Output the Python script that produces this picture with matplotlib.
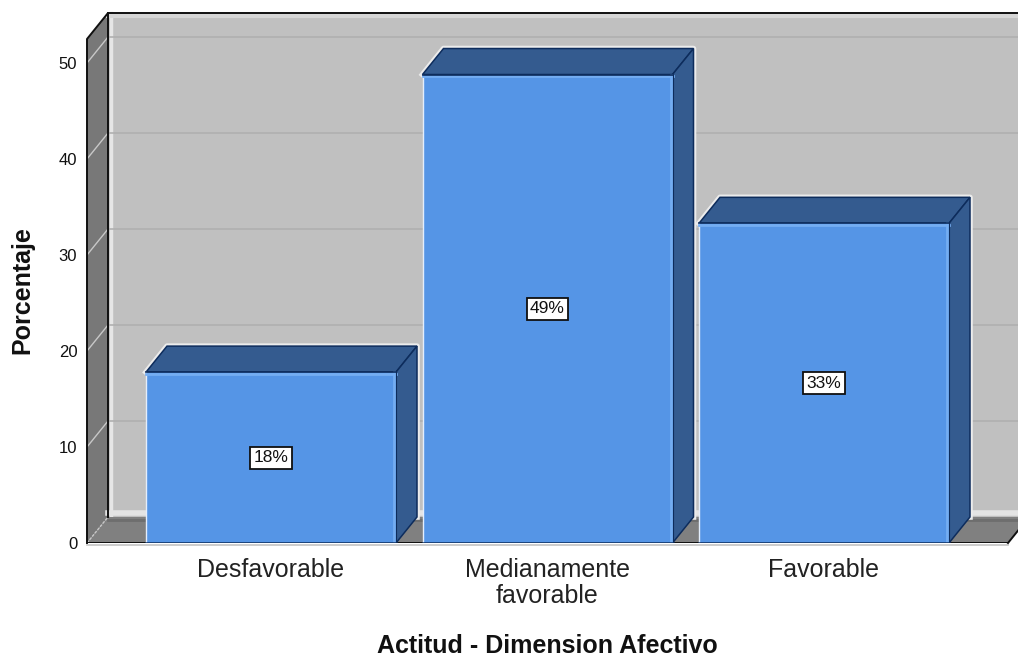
import matplotlib
matplotlib.use('Agg')
import matplotlib.pyplot as plt

plt.rcParams['font.family'] = ['Liberation Sans', 'DejaVu Sans']

categories = ['Desfavorable', 'Medianamente\nfavorable', 'Favorable']
values = [17.8, 48.8, 33.3]
labels = ['18%', '49%', '33%']
y_ticks = [0, 10, 20, 30, 40, 50]

W, H = 1018, 657
# front plane of the chart, in pixels
LEFT, BOTTOM, PX_PER_UNIT, PX_PER_CAT, CAT0 = 87, 543, 9.6, 276.5, 271
DX = 21 / PX_PER_CAT   # depth offset in x units
DY = 26 / PX_PER_UNIT  # depth offset in y units
BAR_W = 250 / PX_PER_CAT
Y_TOP = (BOTTOM - 13) / PX_PER_UNIT
X_MIN = (LEFT - CAT0) / PX_PER_CAT
X_END = (1008 - CAT0) / PX_PER_CAT

WALL = '#c0c0c0'
SIDE = '#787878'
FLOOR = '#808080'
FRONT = '#5595e6'
DARK = '#345b8f'
EDGE = '#0d2c5c'

fig = plt.figure(figsize=(W / 100, H / 100), dpi=100)
ax = fig.add_axes([LEFT / W, (H - BOTTOM) / H, (W - LEFT) / W, BOTTOM / H])
ax.set_xlim(X_MIN, (W - CAT0) / PX_PER_CAT)
ax.set_ylim(0, BOTTOM / PX_PER_UNIT)
for s in ax.spines.values():
    s.set_visible(False)
ax.patch.set_visible(False)

x_back = X_MIN + DX
x_far = X_END + DX

# back wall, with its soft inner edge
ax.fill([x_back, x_far, x_far, x_back], [DY, DY, Y_TOP, Y_TOP], color=WALL, lw=0, zorder=1, clip_on=False)
ax.plot([x_back + 3 / PX_PER_CAT] * 2, [DY, Y_TOP], color='#e6e6e6', lw=2.5, zorder=1.2)
ax.plot([x_back, x_far], [Y_TOP - 0.35] * 2, color='#d6d6d6', lw=3, zorder=1.2)
ax.plot([x_back, x_far], [DY + 0.4] * 2, color='#e4e4e4', lw=4, zorder=1.2)

# left side wall
ax.fill([X_MIN, x_back, x_back, X_MIN], [0, DY, Y_TOP, Y_TOP - DY], color=SIDE, lw=0, zorder=1, clip_on=False)
# floor
ax.fill([X_MIN, x_back, x_far, X_END], [0, DY, DY, 0], color=FLOOR, lw=0, zorder=1.5, clip_on=False)
ax.plot([x_back, x_far], [DY - 0.35] * 2, color='#6e6e6e', lw=2, zorder=1.6)

# grid lines on wall and side
for t in y_ticks[1:]:
    ax.plot([x_back, x_far], [t + DY] * 2, color='#b0b0b0', lw=1.2, zorder=1.3)
for t in y_ticks:
    ax.plot([X_MIN, x_back], [t, t + DY], color='#c8c8c8', lw=1, zorder=1.7,
            ls='-' if t else (0, (2, 1)))

# outline of the box
ax.plot([X_MIN, X_MIN, x_back, x_far], [0, Y_TOP - DY, Y_TOP, Y_TOP], color='#101010', lw=1.4, zorder=2, clip_on=False)
ax.plot([x_back, x_back], [DY, Y_TOP], color='#101010', lw=1.4, zorder=2)
ax.plot([X_MIN, X_END], [0, 0], color='#101010', lw=1.4, zorder=2)
ax.plot([X_MIN, X_END], [-0.25, -0.25], color='#c4c4c4', lw=1.2, zorder=1.9, clip_on=False)
ax.plot([X_END, x_far], [0, DY], color='#101010', lw=1.4, zorder=2, clip_on=False)

for i, v in enumerate(values):
    x0, x1 = i - BAR_W / 2, i + BAR_W / 2
    # pale halo behind the back edges
    ax.plot([x0, x0 + DX, x1 + DX, x1 + DX], [v, v + DY, v + DY, DY], color='#ececec', lw=4,
            solid_joinstyle='round', zorder=2.5)
    # top and side faces
    ax.fill([x0, x0 + DX, x1 + DX, x1], [v, v + DY, v + DY, v], facecolor=DARK, edgecolor=EDGE, lw=1.1, zorder=3 + i)
    ax.fill([x1, x1 + DX, x1 + DX, x1], [0, DY, v + DY, v], facecolor=DARK, edgecolor=EDGE, lw=1.1, zorder=3 + i)
    # front face
    ax.bar(i, v, width=BAR_W, color=FRONT, edgecolor='none', zorder=3.2 + i)
    ax.plot([x0, x0], [0, v], color='#e4eefc', lw=1, zorder=3.3 + i)
    ax.plot([x1 - 2 / PX_PER_CAT] * 2, [0, v], color='#74adf2', lw=2, zorder=3.3 + i)
    ax.plot([x0, x1], [v - 0.2, v - 0.2], color='#74adf2', lw=2, zorder=3.3 + i)
    ax.plot([x0, x1], [v, v], color=EDGE, lw=1.2, zorder=3.4 + i)
    ax.plot([x0, x1], [0, 0], color=EDGE, lw=1.8, zorder=3.4 + i)
    ax.plot([x1, x1], [0, v], color=EDGE, lw=0.8, zorder=3.4 + i)
    ax.text(i, v / 2, labels[i], ha='center', va='center', fontsize=12.5, color='#111111', zorder=8,
            bbox=dict(boxstyle='square,pad=0.2', facecolor='white', edgecolor='#101010', lw=1.3))

ax.set_yticks(y_ticks)
ax.set_yticklabels([str(t) for t in y_ticks], fontsize=12, color='#111111')
ax.set_xticks(range(len(categories)))
ax.set_xticklabels(categories, fontsize=18, color='#222222', linespacing=1.1)
ax.tick_params(axis='y', length=0, pad=7)
ax.tick_params(axis='x', length=0, pad=11)

ax.set_xlabel('Actitud - Dimension Afectivo', fontsize=18, fontweight='bold', color='#111111', va='center')
ax.xaxis.set_label_coords((547 - LEFT) / (W - LEFT), -(646 - BOTTOM) / BOTTOM)
ax.set_ylabel('Porcentaje', fontsize=18, fontweight='bold', color='#111111', va='center')
ax.yaxis.set_label_coords((22 - LEFT) / (W - LEFT), (BOTTOM - 290) / BOTTOM)

fig.savefig('out.png', dpi=100, facecolor='white')
